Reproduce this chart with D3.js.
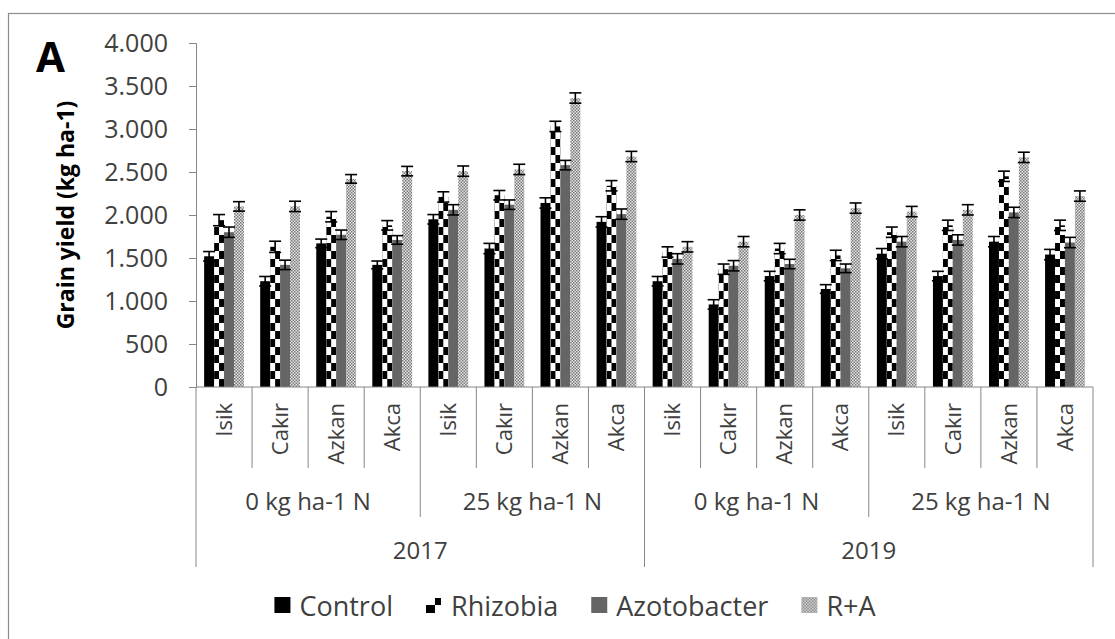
<!DOCTYPE html>
<html>
<head>
<meta charset="utf-8">
<script src="https://cdn.jsdelivr.net/npm/d3@7"></script>
<style>
  html, body { margin: 0; padding: 0; background: #fff; }
  svg { display: block; font-family: "Open Sans", "DejaVu Sans", sans-serif; }
</style>
</head>
<body>
<svg id="chart" width="1115" height="639"></svg>
<script>
// Cultivars, nitrogen levels and years forming the three-level category axis
const cultivars = ["Isik", "Cakır", "Azkan", "Akca"];
const nitrogenLevels = ["0 kg ha-1 N", "25 kg ha-1 N"];
const years = ["2017", "2019"];
const seriesNames = ["Control", "Rhizobia", "Azotobacter", "R+A"];
const yTicks = [0, 500, 1000, 1500, 2000, 2500, 3000, 3500, 4000];

// Grain yield (kg ha-1), order: 2017 0N, 2017 25N, 2019 0N, 2019 25N × cultivars
const control     = [1520, 1230, 1670, 1420, 1950, 1610, 2140, 1920, 1230,  960, 1290, 1140, 1550, 1290, 1690, 1540];
const rhizobia    = [1940, 1630, 1980, 1880, 2210, 2230, 3030, 2340, 1570, 1370, 1610, 1530, 1800, 1880, 2450, 1880];
const azotobacter = [1800, 1420, 1770, 1710, 2060, 2120, 2580, 2010, 1490, 1410, 1430, 1380, 1690, 1710, 2030, 1680];
const rPlusA      = [2100, 2100, 2420, 2510, 2510, 2530, 3360, 2680, 1630, 1690, 2000, 2080, 2040, 2060, 2670, 2220];

// Standard errors shown as error bars
const controlErr     = [55, 55, 50, 45, 55, 60, 60, 60, 55, 55, 55, 50, 60, 55, 60, 60];
const rhizobiaErr    = [65, 65, 60, 55, 60, 55, 60, 60, 60, 60, 60, 60, 60, 60, 60, 60];
const azotobacterErr = [60, 55, 55, 50, 60, 55, 55, 60, 60, 60, 55, 50, 60, 60, 60, 60];
const rPlusAErr      = [55, 60, 50, 55, 60, 60, 60, 60, 60, 60, 60, 60, 60, 60, 60, 60];

const seriesValues = [control, rhizobia, azotobacter, rPlusA];
const seriesErrors = [controlErr, rhizobiaErr, azotobacterErr, rPlusAErr];

// Category keys: year | nitrogen | cultivar
const keys = [];
years.forEach(yr => nitrogenLevels.forEach(n => cultivars.forEach(c => keys.push(yr + "|" + n + "|" + c))));

const svg = d3.select("#chart");
const textColor = "#404040";
const axisColor = "#868686";

// Chart area frame
svg.append("rect")
  .attr("x", 8.5).attr("y", 13.5)
  .attr("width", 1140).attr("height", 640)
  .attr("fill", "#fff").attr("stroke", "#8c8c8c").attr("stroke-width", 1.2);

const plotLeft = 196, plotRight = 1093, plotTop = 43, plotBottom = 387;

const y = d3.scaleLinear().domain([0, 4000]).range([plotBottom, plotTop]);
const x0 = d3.scaleBand().domain(keys).range([plotLeft, plotRight]).padding(0);
const x1 = d3.scaleBand().domain(seriesNames)
  .range([x0.bandwidth() * 0.145, x0.bandwidth() * 0.855]).padding(0);

const locale = d3.formatLocale({ decimal: ",", thousands: ".", grouping: [3], currency: ["", ""] });
const fmt = locale.format(",");

// Patterns
const defs = svg.append("defs");
const fine = defs.append("pattern")
  .attr("id", "ra-fill").attr("patternUnits", "userSpaceOnUse")
  .attr("width", 3).attr("height", 3);
fine.append("rect").attr("width", 3).attr("height", 3).attr("fill", "#e4e4e4");
fine.append("rect").attr("x", 0).attr("y", 0).attr("width", 1.5).attr("height", 1.5).attr("fill", "#7a7a7a");
fine.append("rect").attr("x", 1.5).attr("y", 1.5).attr("width", 1.5).attr("height", 1.5).attr("fill", "#7a7a7a");

// Large checkerboard anchored to each Rhizobia bar
function checkerPattern(id, bx, by, w) {
  const h = 16;
  const p = defs.append("pattern")
    .attr("id", id).attr("patternUnits", "userSpaceOnUse")
    .attr("x", bx).attr("y", by).attr("width", w).attr("height", h);
  p.append("rect").attr("width", w).attr("height", h).attr("fill", "#fff");
  p.append("rect").attr("x", 0).attr("y", 0).attr("width", w / 2).attr("height", h / 2).attr("fill", "#000");
  p.append("rect").attr("x", w / 2).attr("y", h / 2).attr("width", w / 2).attr("height", h / 2).attr("fill", "#000");
}

const solidFills = ["#000000", null, "#656565", "url(#ra-fill)"];

// Bars
const gBars = svg.append("g");
seriesNames.forEach((s, si) => {
  const vals = seriesValues[si];
  keys.forEach((k, ki) => {
    const bx = x0(k) + x1(s);
    const bw = x1.bandwidth();
    let fill = solidFills[si];
    if (fill === null) {
      const id = "rz-" + ki;
      checkerPattern(id, bx, plotBottom, bw);
      fill = "url(#" + id + ")";
    }
    gBars.append("rect")
      .attr("x", bx).attr("y", y(vals[ki]))
      .attr("width", bw).attr("height", y(0) - y(vals[ki]))
      .attr("fill", fill);
  });
});

// Error bars (± standard error)
seriesNames.forEach((s, si) => {
  const vals = seriesValues[si];
  const errs = seriesErrors[si];
  keys.forEach((k, ki) => {
    const cx = x0(k) + x1(s) + x1.bandwidth() / 2;
    const yHi = y(vals[ki] + errs[ki]);
    const yLo = y(vals[ki] - errs[ki]);
    const g = gBars.append("g").attr("stroke", "#000").attr("stroke-width", 1.6);
    g.append("line").attr("x1", cx).attr("x2", cx).attr("y1", yHi).attr("y2", yLo);
    g.append("line").attr("x1", cx - 6).attr("x2", cx + 6).attr("y1", yHi).attr("y2", yHi);
    g.append("line").attr("x1", cx - 6).attr("x2", cx + 6).attr("y1", yLo).attr("y2", yLo);
  });
});

// Y axis
const yAxis = svg.append("g")
  .attr("transform", `translate(${plotLeft},0)`)
  .call(d3.axisLeft(y).tickValues(yTicks).tickFormat(d => fmt(d)).tickSize(7).tickPadding(21));
yAxis.select(".domain").attr("stroke", axisColor);
yAxis.selectAll(".tick line").attr("stroke", axisColor);
yAxis.selectAll(".tick text")
  .attr("fill", textColor).attr("font-size", 25)
  .attr("font-family", "'Open Sans', sans-serif");

// X axis line
svg.append("line")
  .attr("x1", plotLeft).attr("x2", plotRight)
  .attr("y1", plotBottom).attr("y2", plotBottom)
  .attr("stroke", axisColor).attr("stroke-width", 1);

// Multi-level separators
const boundaries = d3.range(keys.length + 1);
svg.append("g").selectAll("line").data(boundaries).join("line")
  .attr("x1", i => i < keys.length ? x0(keys[i]) : plotRight)
  .attr("x2", i => i < keys.length ? x0(keys[i]) : plotRight)
  .attr("y1", plotBottom)
  .attr("y2", i => i % 8 === 0 ? 567 : (i % 4 === 0 ? 517 : 468))
  .attr("stroke", axisColor).attr("stroke-width", 1);

// Cultivar labels (rotated)
svg.append("g").selectAll("text").data(keys).join("text")
  .attr("transform", k => `translate(${x0(k) + x0.bandwidth() / 2},403) rotate(-90)`)
  .attr("text-anchor", "end").attr("dy", "0.35em")
  .attr("font-size", 22).attr("fill", textColor)
  .text(k => k.split("|")[2]);

// Nitrogen level labels
const groupKeys = [];
years.forEach(yr => nitrogenLevels.forEach(n => groupKeys.push({ yr, n })));
svg.append("g").selectAll("text").data(groupKeys).join("text")
  .attr("x", (d, i) => {
    const a = x0(keys[i * 4]);
    const b = x0(keys[i * 4 + 3]) + x0.bandwidth();
    return (a + b) / 2;
  })
  .attr("y", 500).attr("dominant-baseline", "central")
  .attr("text-anchor", "middle").attr("font-size", 24).attr("fill", textColor)
  .text(d => d.n);

// Year labels
svg.append("g").selectAll("text").data(years).join("text")
  .attr("x", (d, i) => {
    const a = x0(keys[i * 8]);
    const b = x0(keys[i * 8 + 7]) + x0.bandwidth();
    return (a + b) / 2;
  })
  .attr("y", 549).attr("dominant-baseline", "central")
  .attr("text-anchor", "middle").attr("font-size", 24).attr("fill", textColor)
  .text(d => d);

// Y axis title
svg.append("text")
  .attr("transform", `translate(65,${(plotTop + plotBottom) / 2}) rotate(-90)`)
  .attr("text-anchor", "middle").attr("dominant-baseline", "central")
  .attr("font-size", 23).attr("font-weight", "bold").attr("fill", "#000")
  .text("Grain yield (kg ha-1)");

// Panel letter
svg.append("text")
  .attr("x", 36).attr("y", 72)
  .attr("font-size", 42).attr("font-weight", "bold").attr("fill", "#000")
  .text("A");

// Legend
const legend = svg.append("g");
let lx = 0;
seriesNames.forEach((s, si) => {
  const g = legend.append("g").attr("transform", `translate(${lx},0)`);
  if (si === 1) {
    // checkerboard swatch: lower-left block and upper-right block
    g.append("rect").attr("x", 0).attr("y", 0).attr("width", 9).attr("height", 8).attr("fill", "#000");
    g.append("rect").attr("x", 9).attr("y", -7).attr("width", 6).attr("height", 7).attr("fill", "#000");
  } else {
    g.append("rect").attr("x", 0).attr("y", -8).attr("width", 16).attr("height", 16)
      .attr("fill", ["#000000", null, "#656565", "url(#ra-fill)"][si]);
  }
  const t = g.append("text").attr("x", 25).attr("y", 0).attr("dominant-baseline", "central")
    .attr("font-size", 27).attr("fill", textColor).text(s);
  const w = 25 + t.node().getComputedTextLength();
  lx += w + 33;
});
const legendWidth = lx - 33;
legend.attr("transform", `translate(${575 - legendWidth / 2},605)`);
</script>
</body>
</html>
